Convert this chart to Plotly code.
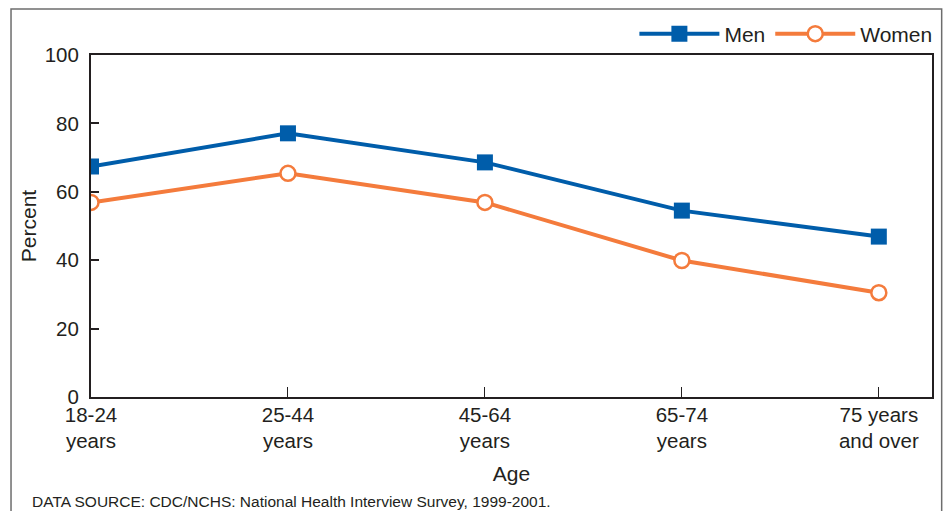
import plotly.graph_objects as go

# age groups on the x axis
age_groups = ["18-24<br>years", "25-44<br>years", "45-64<br>years",
              "65-74<br>years", "75 years<br>and over"]

# percent values
men = [67.4, 77.1, 68.6, 54.5, 46.9]
women = [56.9, 65.4, 56.9, 39.9, 30.5]

blue = "#005DAA"
orange = "#F47B3C"
dark = "#231F20"
font_name = "Liberation Sans, Arial, sans-serif"

# the page has an 8px body margin, so the figure is a bit smaller than the window
W, H = 935, 503

fig = go.Figure()

fig.add_trace(go.Scatter(x=age_groups, y=men, mode="lines+markers", name="Men",
                         line=dict(color=blue, width=4),
                         marker=dict(symbol="square", size=16, color=blue)))
fig.add_trace(go.Scatter(x=age_groups, y=women, mode="lines+markers", name="Women",
                         line=dict(color=orange, width=4),
                         marker=dict(symbol="circle", size=15, color="white",
                                     line=dict(color=orange, width=2.5))))

# grey outer frame round the whole figure
fig.add_shape(type="rect", xref="paper", yref="paper",
              x0=-0.0951, x1=1.0115, y0=-0.40, y1=1.1345,
              line=dict(color="#6d6d6d", width=1.5), layer="below")

fig.add_annotation(text="DATA SOURCE: CDC/NCHS: National Health Interview Survey, 1999-2001.",
                   xref="paper", yref="paper", x=-0.0725, y=-0.305,
                   xanchor="left", yanchor="middle", showarrow=False,
                   font=dict(size=15.5, color=dark, family=font_name))

fig.update_layout(
    width=W, height=H,
    margin=dict(l=83, r=11, t=47, b=114, autoexpand=False),
    paper_bgcolor="white", plot_bgcolor="white",
    font=dict(family=font_name, color=dark, size=20),
    showlegend=True,
    legend=dict(orientation="h", xref="container", yref="container",
                x=0.994, xanchor="right", y=1 - 26 / H, yanchor="middle",
                font=dict(size=21), bgcolor="rgba(0,0,0,0)",
                traceorder="normal", itemwidth=80),
)

fig.update_xaxes(range=[0, 4.27], showline=True, linewidth=2, linecolor=dark,
                 mirror=True, ticks="inside", ticklen=10, tickwidth=1,
                 tickcolor=dark, showgrid=False, zeroline=False,
                 automargin=False, ticklabelstandoff=-2,
                 tickfont=dict(size=20.5),
                 title=dict(text="Age", font=dict(size=21), standoff=15))
fig.update_yaxes(range=[0, 100], tickvals=[0, 20, 40, 60, 80, 100],
                 showline=True, linewidth=2, linecolor=dark, mirror=True,
                 ticks="inside", ticklen=8, tickwidth=1.5, tickcolor=dark,
                 showgrid=False, zeroline=False, ticklabelstandoff=6,
                 automargin=False,
                 tickfont=dict(size=20.5),
                 title=dict(text="Percent", font=dict(size=21), standoff=2))

fig.write_html("out.html")
